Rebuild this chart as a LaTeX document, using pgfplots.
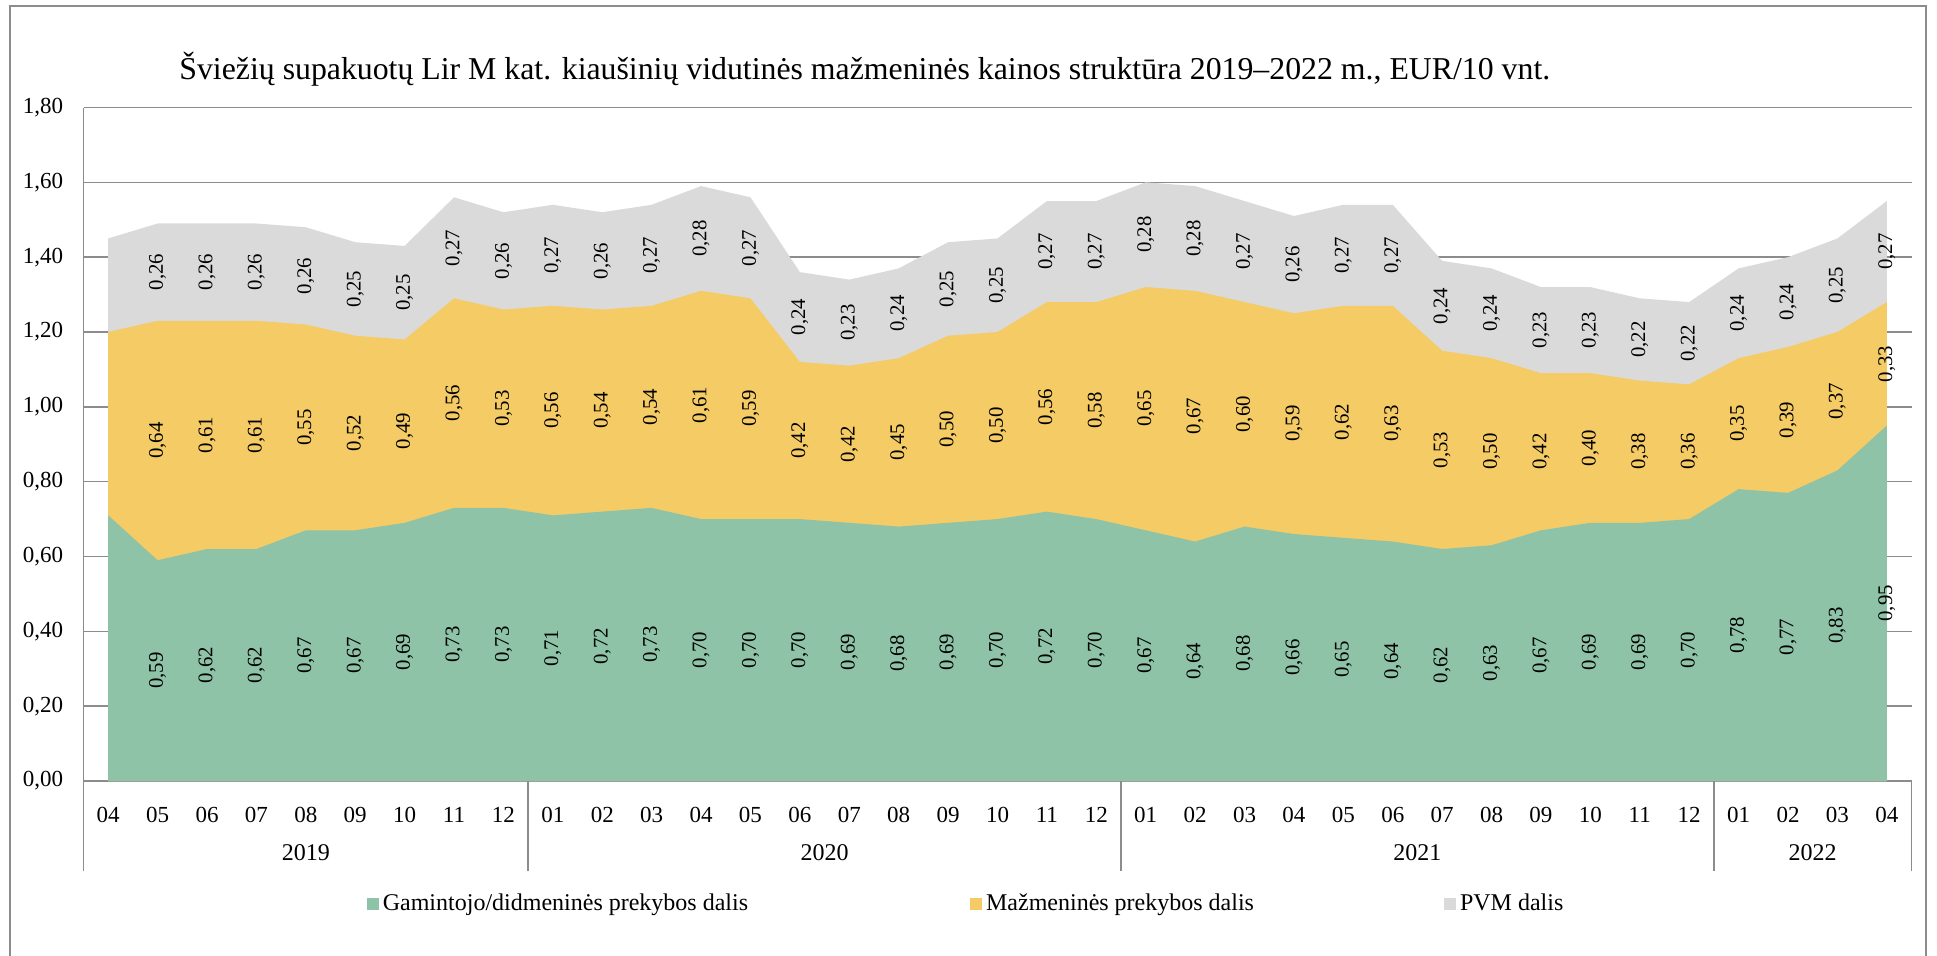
\documentclass[border=0pt]{standalone}
\usepackage{fontspec}
\setmainfont{Liberation Serif}
\usepackage{pgfplots}
\usepackage{pgfplotstable}
\pgfplotsset{compat=1.18}

\definecolor{gamcol}{RGB}{142,195,167}
\definecolor{mazcol}{RGB}{245,203,101}
\definecolor{pvmcol}{RGB}{218,218,218}
\definecolor{axcol}{RGB}{140,140,140}

% month index, producer/wholesale, retail, VAT (EUR/10 vnt.)
\pgfplotstableread{
x g m p
0 0.71 0.49 0.25
1 0.59 0.64 0.26
2 0.62 0.61 0.26
3 0.62 0.61 0.26
4 0.67 0.55 0.26
5 0.67 0.52 0.25
6 0.69 0.49 0.25
7 0.73 0.56 0.27
8 0.73 0.53 0.26
9 0.71 0.56 0.27
10 0.72 0.54 0.26
11 0.73 0.54 0.27
12 0.70 0.61 0.28
13 0.70 0.59 0.27
14 0.70 0.42 0.24
15 0.69 0.42 0.23
16 0.68 0.45 0.24
17 0.69 0.50 0.25
18 0.70 0.50 0.25
19 0.72 0.56 0.27
20 0.70 0.58 0.27
21 0.67 0.65 0.28
22 0.64 0.67 0.28
23 0.68 0.60 0.27
24 0.66 0.59 0.26
25 0.65 0.62 0.27
26 0.64 0.63 0.27
27 0.62 0.53 0.24
28 0.63 0.50 0.24
29 0.67 0.42 0.23
30 0.69 0.40 0.23
31 0.69 0.38 0.22
32 0.70 0.36 0.22
33 0.78 0.35 0.24
34 0.77 0.39 0.24
35 0.83 0.37 0.25
36 0.95 0.33 0.27
}\kainos

\pgfplotsset{
  vallabels/.style={forget plot, draw=none, mark=none,
    skip coords between index={0}{1},
    nodes near coords, point meta=explicit,
    every node near coord/.style={rotate=90, anchor=center, inner sep=0pt,
      font=\fontsize{10.4}{12}\selectfont, text=black,
      /pgf/number format/.cd, fixed, fixed zerofill, precision=2, use comma, assume math mode=true}},
}

\begin{document}
\begin{tikzpicture}[x=0.5pt,y=-0.5pt]
\useasboundingbox (0,0) rectangle (1937,956);
\draw[axcol, line width=1pt] (10,960) -- (10,6) -- (1926,6) -- (1926,960);
\node[anchor=base west, inner sep=0pt, font=\fontsize{15.9}{18}\selectfont]
  at (179,80) {Šviežių supakuotų Lir M kat. kiaušinių vidutinės mažmeninės kainos struktūra 2019–2022 m., EUR/10 vnt.};

\begin{axis}[
    at={(41.75pt,-390.5pt)}, anchor=south west,
    scale only axis, width=914pt, height=336.75pt,
    xmin=-0.5, xmax=36.5, ymin=0, ymax=1.8,
    clip=false,
    axis x line*=bottom, axis y line*=left,
    axis line style={axcol, line width=0.8pt, -},
    ymajorgrids, grid style={axcol, line width=0.8pt},
    major tick length=0pt,
    ytick distance=0.2,
    xtick={0,...,36},
    xticklabels={04,05,06,07,08,09,10,11,12,01,02,03,04,05,06,07,08,09,10,11,12,01,02,03,04,05,06,07,08,09,10,11,12,01,02,03,04},
    xticklabel style={anchor=base, inner sep=0pt, yshift=-20.75pt, font=\fontsize{11.5}{13}\selectfont},
    yticklabel style={anchor=east, inner sep=0pt, xshift=-10pt, font=\fontsize{11.5}{13}\selectfont,
      /pgf/number format/.cd, fixed, fixed zerofill, precision=2, use comma, assume math mode=true},
    legend columns=3,
    reverse legend,
    legend image code/.code={\fill[#1] (0pt,-3pt) rectangle (6pt,3pt);},
    legend style={at={(0.155,-0.1826)}, anchor=west, draw=none, fill=none,
      inner sep=0pt, outer sep=0pt, font=\fontsize{12}{14}\selectfont,
      /tikz/column 2/.style={column sep=109pt},
      /tikz/column 4/.style={column sep=93pt}},
]
\addplot[fill=pvmcol, draw=none]
  table[x=x, y expr=\thisrow{g}+\thisrow{m}+\thisrow{p}] {\kainos} \closedcycle;
\addlegendentry{PVM dalis}
\addplot[fill=mazcol, draw=none]
  table[x=x, y expr=\thisrow{g}+\thisrow{m}] {\kainos} \closedcycle;
\addlegendentry{Mažmeninės prekybos dalis}
\addplot[fill=gamcol, draw=none]
  table[x=x, y=g] {\kainos} \closedcycle;
\addlegendentry{Gamintojo/didmeninės prekybos dalis}

% value labels, centred in each band
\addplot[vallabels] table[x=x, y expr=\thisrow{g}/2, meta=g] {\kainos};
\addplot[vallabels] table[x=x, y expr=\thisrow{g}+\thisrow{m}/2, meta=m] {\kainos};
\addplot[vallabels] table[x=x, y expr=\thisrow{g}+\thisrow{m}+\thisrow{p}/2, meta=p] {\kainos};

% year groups under the month labels
\draw[axcol, line width=0.8pt] (axis cs:-0.5,0) -- ++(0pt,-45pt);
\draw[axcol, line width=0.8pt] (axis cs:8.5,0) -- ++(0pt,-45pt);
\draw[axcol, line width=0.8pt] (axis cs:20.5,0) -- ++(0pt,-45pt);
\draw[axcol, line width=0.8pt] (axis cs:32.5,0) -- ++(0pt,-45pt);
\draw[axcol, line width=0.8pt] (axis cs:36.5,0) -- ++(0pt,-45pt);
\node[anchor=base, inner sep=0pt, font=\fontsize{12}{14}\selectfont] at (axis cs:4,0) [yshift=-39.5pt] {2019};
\node[anchor=base, inner sep=0pt, font=\fontsize{12}{14}\selectfont] at (axis cs:14.5,0) [yshift=-39.5pt] {2020};
\node[anchor=base, inner sep=0pt, font=\fontsize{12}{14}\selectfont] at (axis cs:26.5,0) [yshift=-39.5pt] {2021};
\node[anchor=base, inner sep=0pt, font=\fontsize{12}{14}\selectfont] at (axis cs:34.5,0) [yshift=-39.5pt] {2022};
\end{axis}
\end{tikzpicture}
\end{document}
